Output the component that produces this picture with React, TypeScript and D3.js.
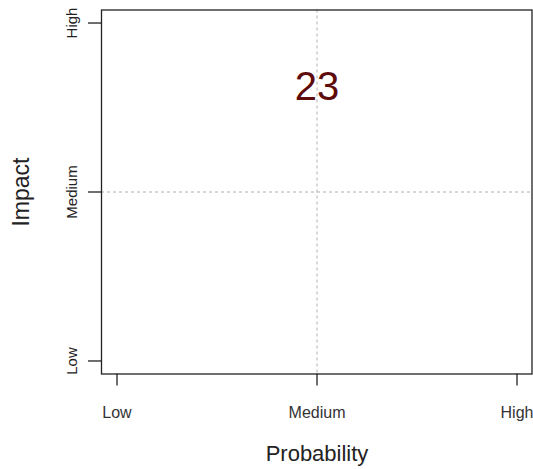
import * as d3 from "d3";
import { useEffect, useRef } from "react";

// tick categories on both axes
const levels = ["Low", "Medium", "High"];
// risk entries plotted as text
const riskLabels = ["23"];
const riskProbability = [2];
const riskImpact = [2.63];

const App = () => {
  const ref = useRef<SVGSVGElement | null>(null);

  useEffect(() => {
    const width = 533;
    const height = 469;
    const font = "'Liberation Sans', Arial, sans-serif";

    const svg = d3.select(ref.current);
    svg.selectAll("*").remove();
    svg.attr("width", width).attr("height", height);

    const left = 101;
    const right = 533;
    const top = 9.5;
    const bottom = 374.5;

    // R style 4% padding around the 1..3 range
    const x = d3.scaleLinear().domain([0.92, 3.08]).range([left, right]);
    const y = d3.scaleLinear().domain([0.92, 3.08]).range([bottom, top]);
    const pos = levels.map((_, i) => i + 1);

    // dotted guides at Medium
    svg
      .append("line")
      .attr("x1", x(2))
      .attr("x2", x(2))
      .attr("y1", top)
      .attr("y2", bottom)
      .attr("stroke", "#b0b0b0")
      .attr("stroke-dasharray", "3,3");
    svg
      .append("line")
      .attr("x1", left)
      .attr("x2", right)
      .attr("y1", y(2))
      .attr("y2", y(2))
      .attr("stroke", "#b0b0b0")
      .attr("stroke-dasharray", "3,3");

    // box
    svg
      .append("rect")
      .attr("x", left + 0.5)
      .attr("y", top + 0.5)
      .attr("width", right - left - 1.5)
      .attr("height", bottom - top - 1)
      .attr("fill", "none")
      .attr("stroke", "#222")
      .attr("stroke-width", 1.3);

    // x ticks
    svg
      .selectAll(".xt")
      .data(pos)
      .enter()
      .append("line")
      .attr("x1", (d) => x(d))
      .attr("x2", (d) => x(d))
      .attr("y1", bottom - 1)
      .attr("y2", bottom + 11)
      .attr("stroke", "#222")
      .attr("stroke-width", 1.3);
    svg
      .selectAll(".xl")
      .data(pos)
      .enter()
      .append("text")
      .attr("x", (d) => x(d))
      .attr("y", 418)
      .attr("text-anchor", "middle")
      .attr("font-family", font)
      .attr("font-size", 16)
      .attr("fill", "#333")
      .text((d) => levels[d - 1]);

    // y ticks
    svg
      .selectAll(".yt")
      .data(pos)
      .enter()
      .append("line")
      .attr("x1", left - 13)
      .attr("x2", left + 1)
      .attr("y1", (d) => y(d))
      .attr("y2", (d) => y(d))
      .attr("stroke", "#222")
      .attr("stroke-width", 1.3);
    svg
      .selectAll(".yl")
      .data(pos)
      .enter()
      .append("text")
      .attr("transform", (d) => `translate(77,${y(d)}) rotate(-90)`)
      .attr("text-anchor", "middle")
      .attr("font-family", font)
      .attr("font-size", 15)
      .attr("fill", "#222")
      .text((d) => levels[d - 1]);

    // axis titles
    svg
      .append("text")
      .attr("x", x(2))
      .attr("y", 461)
      .attr("text-anchor", "middle")
      .attr("font-family", font)
      .attr("font-size", 22)
      .attr("fill", "#222")
      .text("Probability");
    svg
      .append("text")
      .attr("transform", `translate(29,${y(2)}) rotate(-90)`)
      .attr("text-anchor", "middle")
      .attr("font-family", font)
      .attr("font-size", 23)
      .attr("fill", "#222")
      .text("Impact");

    // risk labels
    svg
      .selectAll(".risk")
      .data(riskLabels)
      .enter()
      .append("text")
      .attr("x", (_, i) => x(riskProbability[i]))
      .attr("y", (_, i) => y(riskImpact[i]))
      .attr("dy", "0.36em")
      .attr("text-anchor", "middle")
      .attr("font-family", font)
      .attr("font-size", 40)
      .attr("fill", "#5e0b0b")
      .text((d) => d);
  }, []);

  return (
    <svg
      ref={ref}
      style={{ position: "absolute", left: 0, top: 0, display: "block" }}
    ></svg>
  );
};

export default App;
